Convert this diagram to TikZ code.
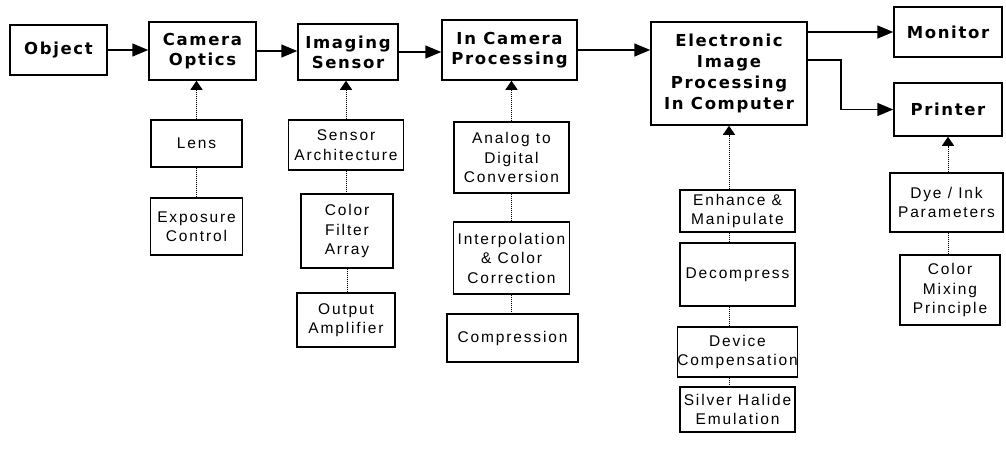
\documentclass[tikz,border=0pt]{standalone}
\usepackage{fontspec}
\setmainfont{Liberation Sans}
\newfontfamily\topfont[LetterSpace=10]{DejaVu Sans}
\newfontfamily\subfont[LetterSpace=12]{Liberation Sans}
\usetikzlibrary{arrows.meta}

\begin{document}
\begin{tikzpicture}[x=1pt, y=-1pt,
    topbox/.style={draw, line width=1.5pt, inner sep=0pt, align=center,
        font=\topfont\bfseries\fontsize{16.5}{20}\selectfont},
    subbox/.style={draw, line width=1.3pt, inner sep=0pt, align=center,
        font=\subfont\fontsize{15.5}{19.5}\selectfont},
    flow/.style={line width=1.5pt, -{Triangle[length=16pt,width=13pt]}},
    feed/.style={densely dotted, line width=1pt, -{Triangle[length=9pt,width=12pt]}},
    tie/.style={densely dotted, line width=1pt}]
    \useasboundingbox (0,0) rectangle (1006,450);

    % Main chain
    \node[topbox, minimum width=97pt, minimum height=50pt] (obj) at (58.5,50) {Object};
    \node[topbox, minimum width=107pt, minimum height=58pt] (optics) at (202.5,51) {Camera\\Optics};
    \node[topbox, minimum width=100pt, minimum height=56pt] (sensor) at (348,52) {Imaging\\Sensor};
    \node[topbox, minimum width=135pt, minimum height=60pt] (incam) at (509.5,50) {In Camera\\Processing};
    \node[topbox, minimum width=156pt, minimum height=103pt, font=\topfont\bfseries\fontsize{16.5}{21}\selectfont]
        (elec) at (729,73.5) {Electronic\\Image\\Processing\\In Computer};
    \node[topbox, minimum width=108pt, minimum height=50pt] (mon) at (948,32) {Monitor};
    \node[topbox, minimum width=108pt, minimum height=53pt] (prn) at (948,109.5) {Printer};
    \coordinate (split) at (841,60);

    % Chain arrows
    \draw[flow] (obj.east) -- (obj.east -| optics.west);
    \draw[flow] (optics.east) -- (optics.east -| sensor.west);
    \draw[flow] (sensor.east) -- (sensor.east -| incam.west);
    \draw[flow] (incam.east) -- (incam.east -| elec.west);
    \draw[flow] (elec.east |- mon.west) -- (mon.west);
    \draw[flow] (split -| elec.east) -- (split) |- (prn.west);

    % Optics parts
    \node[subbox, minimum width=91pt, minimum height=47pt] (lens) at (196.5,143.5) {Lens};
    \node[subbox, minimum width=92pt, minimum height=57pt] (expo) at (196.5,226.5) {Exposure\\Control};

    % Sensor parts
    \node[subbox, minimum width=115pt, minimum height=50pt] (arch) at (346,145) {Sensor\\Architecture};
    \node[subbox, minimum width=92pt, minimum height=74pt] (cfa) at (347,231) {Color\\Filter\\Array};
    \node[subbox, minimum width=98pt, minimum height=54pt] (amp) at (346,320) {Output\\Amplifier};

    % In camera steps
    \node[subbox, minimum width=115pt, minimum height=71pt] (adc) at (511.5,157.5) {Analog to\\Digital\\Conversion};
    \node[subbox, minimum width=116pt, minimum height=72pt] (interp) at (511.5,258) {Interpolation\\\& Color\\Correction};
    \node[subbox, minimum width=131pt, minimum height=48pt] (comp) at (512.5,338) {Compression};

    % Computer steps
    \node[subbox, minimum width=115pt, minimum height=42pt] (enh) at (737.5,211) {Enhance \&\\Manipulate};
    \node[subbox, minimum width=115pt, minimum height=63pt] (dec) at (737.5,274.5) {Decompress};
    \node[subbox, minimum width=115pt, minimum height=50pt] (dev) at (737.5,352) {Device\\Compensation};
    \node[subbox, minimum width=115pt, minimum height=45pt] (silver) at (737.5,409.5) {Silver Halide\\Emulation};

    % Printer parts
    \node[subbox, minimum width=113pt, minimum height=59pt] (dye) at (946.5,202.5) {Dye / Ink\\Parameters};
    \node[subbox, minimum width=100pt, minimum height=70pt] (mix) at (950,290) {Color\\Mixing\\Principle};

    % Feeds into the chain
    \draw[feed] (lens.north) -- (lens.north |- optics.south);
    \draw[feed] (arch.north) -- (arch.north |- sensor.south);
    \draw[feed] (adc.north) -- (adc.north |- incam.south);
    \draw[feed] (elec.south |- enh.north) -- (elec.south);
    \draw[feed] (prn.south |- dye.north) -- (prn.south);

    % Ties between parts
    \draw[tie] (lens.south) -- (lens.south |- expo.north);
    \draw[tie] (arch.south) -- (arch.south |- cfa.north);
    \draw[tie] (cfa.south) -- (cfa.south |- amp.north);
    \draw[tie] (adc.south) -- (adc.south |- interp.north);
    \draw[tie] (interp.south) -- (interp.south |- comp.north);
    \draw[tie] (elec.south |- enh.south) -- (elec.south |- dec.north);
    \draw[tie] (elec.south |- dec.south) -- (elec.south |- dev.north);
    \draw[tie] (elec.south |- dev.south) -- (elec.south |- silver.north);
    \draw[tie] (prn.south |- dye.south) -- (prn.south |- mix.north);
\end{tikzpicture}
\end{document}
